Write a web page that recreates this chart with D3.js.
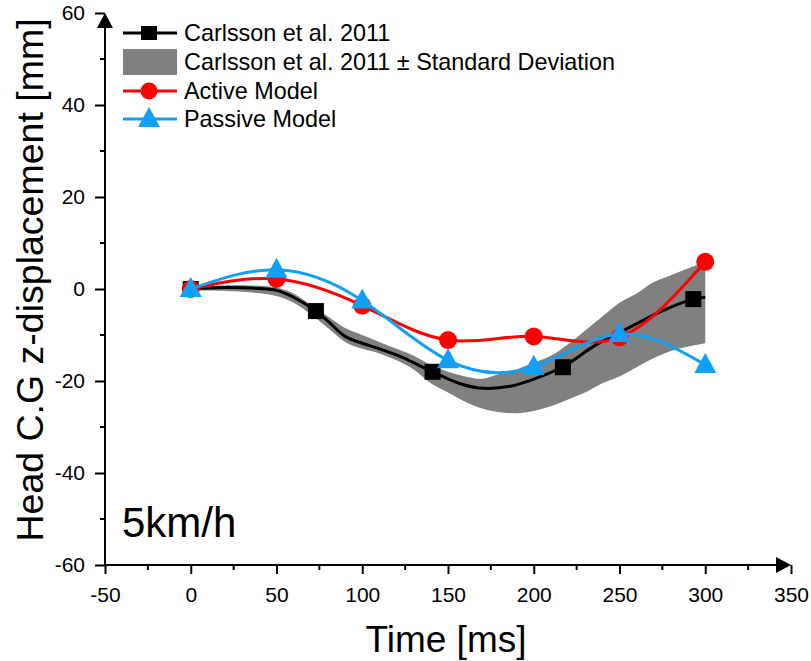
<!DOCTYPE html>
<html><head><meta charset="utf-8">
<script src="https://cdn.jsdelivr.net/npm/d3@7"></script>
<style>body{margin:0;background:#fff}svg{display:block;font-family:"Liberation Sans",Arial,sans-serif}</style>
</head><body><svg id="c" width="811" height="661"></svg>
<script>
// ---- data ----
const xTicks = [-50, 0, 50, 100, 150, 200, 250, 300, 350];
const yTicks = [-60, -40, -20, 0, 20, 40, 60];
// Carlsson mean curve (dense trace)
const meanT = [0, 20, 40, 50, 60, 73, 80, 90, 100, 110, 123, 141, 158, 171, 187, 200, 217, 236, 251, 274, 292, 300];
const meanV = [0, 0.3, 0.1, -0.3, -1.8, -4.8, -7, -10.3, -11.8, -13, -14.8, -18, -20.7, -21.6, -21.1, -19.6, -16.9, -12.2, -9.3, -4.9, -2.3, -1.8];
// Carlsson markers
const carlT = [0, 73, 141, 217, 293];
const carlV = [0, -4.8, -18, -17, -2.2];
// standard deviation band
const sdT  = [0, 25, 50, 60, 70, 80, 90, 100, 110, 120, 130, 140, 150, 160, 170, 180, 190, 200, 210, 220, 230, 240, 250, 260, 270, 280, 290, 300];
const sdLo = [-0.3, -0.5, -1.5, -3, -5.5, -8.5, -11.5, -13, -14, -15.5, -17.5, -20.5, -22.5, -24.5, -26, -26.8, -27, -26.5, -25.5, -24, -22.5, -20.5, -19, -17, -15, -13.5, -12.5, -11.8];
const sdHi = [0.3, 0.8, 0.3, -1, -3.5, -6, -8.5, -10, -11.5, -13, -14.5, -16.5, -18, -19, -19.5, -18.5, -17.5, -16, -14.5, -12, -9, -6, -3, -1, 1.5, 3, 4.5, 5.8];
// models
const modelT = [0, 50, 100, 150, 200, 250, 300];
const activeV = [0, 2.2, -3.6, -11.1, -10.3, -10.5, 5.9];
const passiveV = [0, 4.2, -2.5, -15.5, -16.9, -9.8, -16.5];
const legendLabels = ["Carlsson et al. 2011", "Carlsson et al. 2011 ± Standard Deviation", "Active Model", "Passive Model"];

const BLUE = "#12a0f5", RED = "#ff0000", GRAY = "#808080";

const svg = d3.select("#c");
const x = d3.scaleLinear().domain([-50, 350]).range([105, 791]);
const y = d3.scaleLinear().domain([-60, 60]).range([565, 13]);

// band
const band = sdT.map((t, i) => ({t, lo: sdLo[i], hi: sdHi[i]}));
svg.append("path").datum(band)
  .attr("d", d3.area().x(d => x(d.t)).y0(d => y(d.lo)).y1(d => y(d.hi)).curve(d3.curveCatmullRom))
  .attr("fill", GRAY);

const lineGen = d3.line().x(d => x(d[0])).y(d => y(d[1]));

// black mean
svg.append("path").datum(meanT.map((t, i) => [t, meanV[i]]))
  .attr("d", lineGen.curve(d3.curveCatmullRom)).attr("fill", "none")
  .attr("stroke", "#000").attr("stroke-width", 3);
svg.selectAll(".sq").data(carlT.map((t, i) => [t, carlV[i]])).enter().append("rect")
  .attr("x", d => x(d[0]) - 8).attr("y", d => y(d[1]) - 8)
  .attr("width", 16).attr("height", 16).attr("fill", "#000");

// active
svg.append("path").datum(modelT.map((t, i) => [t, activeV[i]]))
  .attr("d", lineGen.curve(d3.curveNatural)).attr("fill", "none")
  .attr("stroke", RED).attr("stroke-width", 3);
svg.selectAll(".ci").data(modelT.map((t, i) => [t, activeV[i]])).enter().append("circle")
  .attr("cx", d => x(d[0])).attr("cy", d => y(d[1])).attr("r", 9).attr("fill", RED);

// passive
svg.append("path").datum(modelT.map((t, i) => [t, passiveV[i]]))
  .attr("d", lineGen.curve(d3.curveNatural)).attr("fill", "none")
  .attr("stroke", BLUE).attr("stroke-width", 3);
const tri = (cx, cy, w, h) => `M${cx},${cy - h * 0.6}L${cx + w / 2},${cy + h * 0.4}L${cx - w / 2},${cy + h * 0.4}Z`;
svg.selectAll(".tr").data(modelT.map((t, i) => [t, passiveV[i]])).enter().append("path")
  .attr("d", d => tri(x(d[0]), y(d[1]), 22, 20)).attr("fill", BLUE);

// axes
const fmt = d => String(d);
const xAxis = svg.append("g").attr("transform", `translate(0,${y(-60)})`)
  .call(d3.axisBottom(x).tickValues(xTicks).tickSize(9).tickPadding(13).tickFormat(fmt));
const yAxis = svg.append("g").attr("transform", `translate(${x(-50)},0)`)
  .call(d3.axisLeft(y).tickValues(yTicks).tickSize(10).tickPadding(10).tickFormat(fmt));
[xAxis, yAxis].forEach(g => {
  g.select(".domain").remove();
  g.selectAll("line").attr("stroke", "#000").attr("stroke-width", 2);
  g.selectAll("text").attr("font-size", 21).attr("fill", "#000").attr("font-family", "Liberation Sans, Arial, sans-serif");
});
// minor ticks
const xMinor = d3.range(-25, 350, 50);
svg.selectAll(".xm").data(xMinor).enter().append("line")
  .attr("x1", d => x(d)).attr("x2", d => x(d)).attr("y1", y(-60)).attr("y2", y(-60) + 5)
  .attr("stroke", "#000").attr("stroke-width", 2);
const yMinor = d3.range(-50, 60, 20);
svg.selectAll(".ym").data(yMinor).enter().append("line")
  .attr("y1", d => y(d)).attr("y2", d => y(d)).attr("x1", x(-50)).attr("x2", x(-50) - 5)
  .attr("stroke", "#000").attr("stroke-width", 2);
// axis lines with arrows
svg.append("line").attr("x1", x(-50) - 1).attr("x2", x(350) - 10).attr("y1", y(-60)).attr("y2", y(-60))
  .attr("stroke", "#000").attr("stroke-width", 2);
svg.append("line").attr("x1", x(-50)).attr("x2", x(-50)).attr("y1", y(-60) + 1).attr("y2", y(60) + 10)
  .attr("stroke", "#000").attr("stroke-width", 2);
svg.append("path").attr("d", `M${x(350)},${y(-60)}L${x(350) - 15},${y(-60) - 8}L${x(350) - 15},${y(-60) + 8}Z`).attr("fill", "#000");
svg.append("path").attr("d", `M${x(-50)},${y(60)}L${x(-50) - 8},${y(60) + 15}L${x(-50) + 8},${y(60) + 15}Z`).attr("fill", "#000");

// axis titles
svg.append("text").attr("x", 446).attr("y", 652).attr("text-anchor", "middle")
  .attr("font-size", 37).text("Time [ms]");
svg.append("text").attr("transform", `translate(43,280) rotate(-90)`).attr("text-anchor", "middle")
  .attr("font-size", 37.5).text("Head C.G z-displacement [mm]");
svg.append("text").attr("x", 122).attr("y", 537).attr("font-size", 42).text("5km/h");

// legend
const lx0 = 123, lx1 = 177, ltx = 184, ly = [33, 62, 91, 119];
const lc = (lx0 + lx1) / 2 - 1;
const lg = svg.append("g");
lg.append("line").attr("x1", lx0).attr("x2", lx1).attr("y1", ly[0]).attr("y2", ly[0]).attr("stroke", "#000").attr("stroke-width", 3);
lg.append("rect").attr("x", lc - 8).attr("y", ly[0] - 7).attr("width", 16).attr("height", 14).attr("fill", "#000");
lg.append("rect").attr("x", lx0).attr("y", 49).attr("width", lx1 - lx0).attr("height", 26).attr("fill", GRAY);
lg.append("line").attr("x1", lx0).attr("x2", lx1).attr("y1", ly[2]).attr("y2", ly[2]).attr("stroke", RED).attr("stroke-width", 3);
lg.append("circle").attr("cx", lc).attr("cy", ly[2]).attr("r", 8.5).attr("fill", RED);
lg.append("line").attr("x1", lx0).attr("x2", lx1).attr("y1", ly[3]).attr("y2", ly[3]).attr("stroke", BLUE).attr("stroke-width", 3);
lg.append("path").attr("d", tri(lc, ly[3], 22, 20)).attr("fill", BLUE);
legendLabels.forEach((t, i) => {
  lg.append("text").attr("x", ltx).attr("y", ly[i]).attr("dy", "0.35em").attr("font-size", 23.4).text(t);
});
</script></body></html>
